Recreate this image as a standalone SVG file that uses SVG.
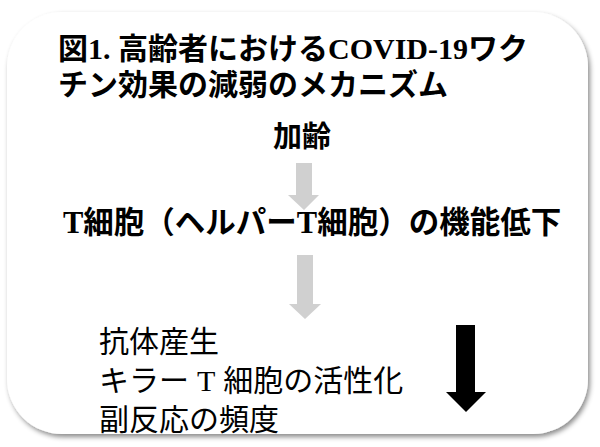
<svg xmlns="http://www.w3.org/2000/svg" width="600" height="447" viewBox="0 0 600 447">
<defs>
<filter id="sh" x="-5%" y="-5%" width="110%" height="110%">
<feDropShadow dx="2" dy="3" stdDeviation="2.5" flood-color="#000" flood-opacity="0.45"/>
</filter>
<style>
.t{font-family:"Liberation Serif","Noto Sans CJK JP",serif;fill:#000}
.b{font-weight:bold}
.g{fill:#d0d0d0}
</style>
</defs>
<rect width="600" height="447" fill="#fff"/>
<g id="frame">
<rect x="7" y="12" width="581" height="422" rx="55" ry="55" fill="#fff" filter="url(#sh)"/>
</g>
<g id="title">
<text class="t b" x="58" y="59" font-size="30">図1. 高齢者におけるCOVID-19ワク</text>
<text class="t b" x="58" y="95" font-size="30">チン効果の減弱のメカニズム</text>
</g>
<g id="node-aging">
<text class="t b" x="302" y="147" font-size="29" text-anchor="middle">加齢</text>
</g>
<g id="node-tcell">
<text class="t b" x="63" y="233" font-size="30.5">T細胞（ヘルパーT細胞）の機能低下</text>
</g>
<g id="node-effects">
<text class="t" x="99" y="352" font-size="30">抗体産生</text>
<text class="t" x="99" y="391" font-size="30">キラー<tspan dx="8">T</tspan><tspan dx="8">細胞の活性化</tspan></text>
<text class="t" x="99" y="430" font-size="30">副反応の頻度</text>
</g>
<g id="connectors">
<polygon class="g" points="296,163 312,163 312,195 319,195 304,210 288,195 296,195"/>
<polygon class="g" points="297,255 313,255 313,304 321,304 305,319 289,304 297,304"/>
<polygon fill="#000" points="456,325 475,325 475,392 486,392 466,412 446,392 456,392"/>
</g>
</svg>
